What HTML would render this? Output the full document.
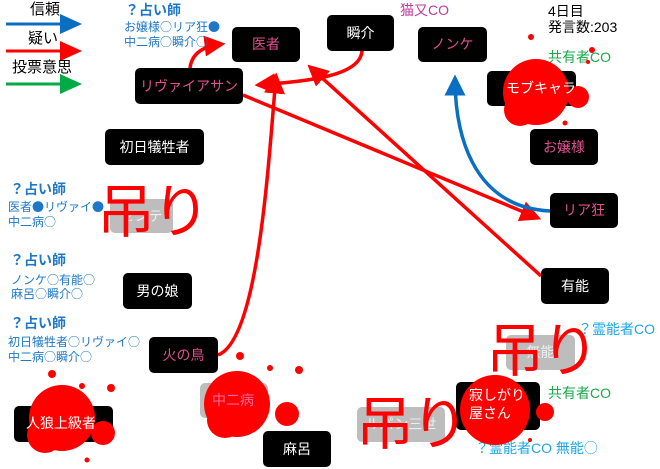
<!DOCTYPE html>
<html><head><meta charset="utf-8"><style>
body{margin:0;width:660px;height:469px;background:#fff;overflow:hidden;position:relative;font-family:"Liberation Sans","Noto Sans CJK JP",sans-serif}
svg{position:absolute;left:0;top:0}
.t{position:absolute;white-space:nowrap;line-height:1}
.n{position:absolute;background:#000;border-radius:5px;color:#fff;font-size:14px;display:flex;align-items:center;justify-content:center;text-align:center;line-height:1.3}
.p{color:#e0508f}
.g{background:#bdbdbd;color:#eee}
.blue{color:#1e78c8}
.j{font-family:"Noto Sans CJK JP",sans-serif}
.hang{position:absolute;color:#f00;font-size:58px;font-weight:normal;line-height:1;white-space:nowrap;letter-spacing:-3px;font-family:"Noto Sans CJK JP",sans-serif}
</style></head><body>
<svg width="660" height="469" viewBox="0 0 660 469">
<defs>
<marker id="ar" markerWidth="6" markerHeight="6" refX="5" refY="3" orient="auto" markerUnits="strokeWidth"><path d="M0,0L6,3L0,6z" fill="#f00"/></marker>
<marker id="ab" markerWidth="6" markerHeight="6" refX="5" refY="3" orient="auto" markerUnits="strokeWidth"><path d="M0,0L6,3L0,6z" fill="#0a6fc2"/></marker>
</defs>
<line x1="6" y1="24" x2="62" y2="24" stroke="#0a6fc2" stroke-width="3"/><path d="M60,14L82,24L60,34z" fill="#0a6fc2"/>
<line x1="6" y1="51" x2="62" y2="51" stroke="#f00" stroke-width="3"/><path d="M60,41L82,51L60,61z" fill="#f00"/>
<line x1="6" y1="84" x2="62" y2="84" stroke="#0a4" stroke-width="3"/><path d="M60,74L82,84L60,94z" fill="#0a4"/>
<path d="M190,68 C192,52 205,46 222,44" stroke="#f00" stroke-width="3.5" fill="none" marker-end="url(#ar)"/>
<path d="M362,51 C360,76 310,81 258,85" stroke="#f00" stroke-width="3.5" fill="none" marker-end="url(#ar)"/>
<path d="M243,95 L538,218" stroke="#f00" stroke-width="3.5" fill="none" marker-end="url(#ar)"/>
<path d="M541,276 L310,67" stroke="#f00" stroke-width="3.5" fill="none" marker-end="url(#ar)"/>
<path d="M218,355 C258,340 268,170 276,76" stroke="#f00" stroke-width="3.5" fill="none" marker-end="url(#ar)"/>
<path d="M550,211 C470,207 455,130 455,78" stroke="#0a6fc2" stroke-width="3.5" fill="none" marker-end="url(#ab)"/>
</svg>

<div class="t j" style="left:30px;top:1px;font-size:15px">信頼</div>
<div class="t j" style="left:28px;top:30px;font-size:15px">疑い</div>
<div class="t j" style="left:12px;top:59px;font-size:15px">投票意思</div>

<div class="t blue j" style="left:125px;top:3px;font-size:14px;font-weight:bold">？占い師</div>
<div class="t blue j" style="left:124px;top:21px;font-size:12px">お嬢様○リア狂●</div>
<div class="t blue j" style="left:124px;top:36px;font-size:12px">中二病○瞬介○</div>
<div class="t" style="left:400px;top:3px;font-size:14px;color:#c03aa0">猫又CO</div>
<div class="t" style="left:548px;top:4px;font-size:14px">4日目</div>
<div class="t" style="left:548px;top:20px;font-size:14px">発言数:203</div>
<div class="t" style="left:548px;top:50px;font-size:14px;color:#1aaa4a">共有者CO</div>

<div class="t blue j" style="left:10px;top:182px;font-size:14px;font-weight:bold">？占い師</div>
<div class="t blue j" style="left:8px;top:201px;font-size:12px">医者●リヴァイ●</div>
<div class="t blue j" style="left:8px;top:216px;font-size:12px">中二病○</div>
<div class="t blue j" style="left:10px;top:253px;font-size:14px;font-weight:bold">？占い師</div>
<div class="t blue j" style="left:11px;top:274px;font-size:12px">ノンケ○有能○</div>
<div class="t blue j" style="left:11px;top:288px;font-size:12px">麻呂○瞬介○</div>
<div class="t blue j" style="left:10px;top:316px;font-size:14px;font-weight:bold">？占い師</div>
<div class="t blue j" style="left:8px;top:336px;font-size:12px">初日犠牲者○リヴァイ○</div>
<div class="t blue j" style="left:8px;top:351px;font-size:12px">中二病○瞬介○</div>

<div class="t" style="left:578px;top:322px;font-size:14px;color:#1aa8e8">？霊能者CO</div>
<div class="t" style="left:548px;top:386px;font-size:14px;color:#1aaa4a">共有者CO</div>
<div class="t" style="left:475px;top:441px;font-size:14px;color:#1aa8e8">？霊能者CO 無能<span class="j">○</span></div>

<div class="n p" style="left:232px;top:27px;width:68px;height:35px">医者</div>
<div class="n" style="left:327px;top:15px;width:67px;height:36px">瞬介</div>
<div class="n p" style="left:418px;top:27px;width:69px;height:35px">ノンケ</div>
<div class="n p" style="left:135px;top:68px;width:108px;height:36px">リヴァイアサン</div>
<div class="n" style="left:105px;top:129px;width:99px;height:36px">初日犠牲者</div>
<div class="n p" style="left:530px;top:129px;width:68px;height:36px">お嬢様</div>
<div class="n p" style="left:550px;top:193px;width:68px;height:35px">リア狂</div>
<div class="n" style="left:123px;top:273px;width:69px;height:36px">男の娘</div>
<div class="n" style="left:541px;top:268px;width:68px;height:36px">有能</div>
<div class="n p" style="left:149px;top:337px;width:69px;height:36px">火の鳥</div>
<div class="n" style="left:263px;top:431px;width:68px;height:36px">麻呂</div>
<div class="n g" style="left:110px;top:199px;width:63px;height:34px">センテ</div>
<div class="n g" style="left:506px;top:335px;width:69px;height:35px">無能</div>
<div class="n g" style="left:357px;top:407px;width:88px;height:35px">ルパン三世</div>

<div class="n" style="left:487px;top:71px;width:89px;height:35px"></div>
<div class="n" style="left:14px;top:406px;width:99px;height:36px"></div>
<div class="n" style="left:456px;top:382px;width:84px;height:48px"></div>
<div class="n g" style="left:200px;top:383px;width:68px;height:35px"></div>

<svg width="660" height="469" viewBox="0 0 660 469">
<g fill="#f00">
<circle cx="536" cy="92" r="33"/><circle cx="520" cy="110" r="16"/><circle cx="578" cy="97" r="11"/><circle cx="531" cy="37" r="3"/><circle cx="565" cy="123" r="2.5"/><circle cx="588" cy="62" r="2"/><circle cx="592" cy="50" r="3"/>
<circle cx="62" cy="418" r="33"/><circle cx="45" cy="435" r="18"/><circle cx="103" cy="433" r="12"/><circle cx="52" cy="374" r="4"/><circle cx="111" cy="388" r="4"/><circle cx="82" cy="386" r="3"/><circle cx="87" cy="460" r="2.5"/>
<circle cx="237" cy="404" r="33"/><circle cx="225" cy="420" r="18"/><circle cx="287" cy="414" r="12"/><circle cx="240" cy="356" r="4"/><circle cx="299" cy="370" r="4"/><circle cx="270" cy="368" r="3"/>
<circle cx="495" cy="410" r="35"/><circle cx="545" cy="412" r="9"/><circle cx="530" cy="440" r="2"/>
</g>
</svg>
<div class="t" style="left:506px;top:81px;font-size:14px;color:#fff">モブキャラ</div>
<div class="t" style="left:26px;top:416px;font-size:14px;color:#fff">人狼上級者</div>
<div class="t" style="left:212px;top:393px;font-size:14px;color:#ff6aa0">中二病</div>
<div class="t" style="left:469px;top:387px;font-size:14px;color:#fff;line-height:1.25">寂しがり<br>屋さん</div>

<div class="hang" style="left:97px;top:178px">吊り</div>
<div class="hang" style="left:486px;top:317px">吊り</div>
<div class="hang" style="left:356px;top:390px">吊り</div>
</body></html>
